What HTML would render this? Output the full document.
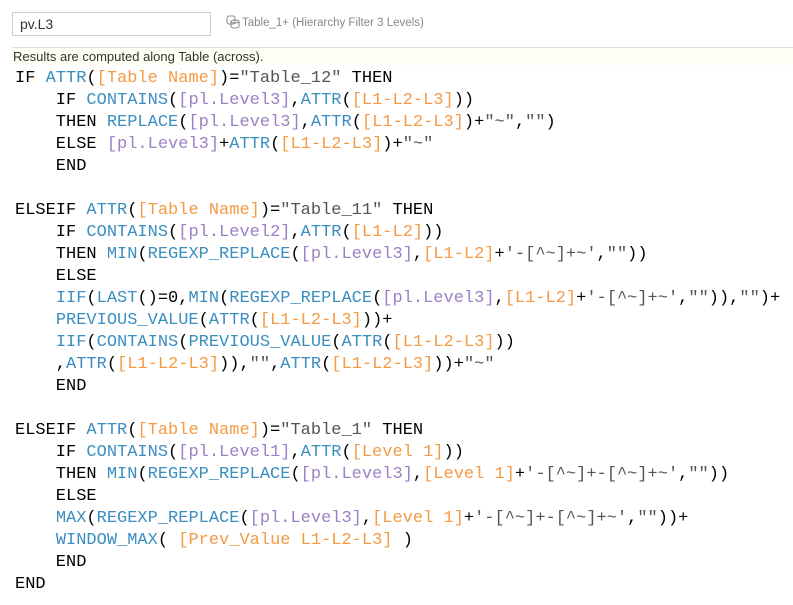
<!DOCTYPE html>
<html><head><meta charset="utf-8"><style>
body{margin:0;width:793px;height:605px;background:#fff;overflow:hidden;position:relative;font-family:"Liberation Sans",sans-serif}
.inp{position:absolute;left:12px;top:12px;font-size:14px;color:#333;line-height:22px;padding-left:7px;box-sizing:border-box;width:199px;height:24px;border:1px solid #cfcfcf}
.src{position:absolute;left:226px;top:15px;font-size:11.5px;color:#888;line-height:16px}
.src svg{vertical-align:-3px;margin-right:2px}
.rule{position:absolute;left:12px;top:47px;width:781px;height:1px;background:#ddd}
.note{position:absolute;left:12px;top:48px;width:781px;height:17px;background:#fefef2;font-size:13px;color:#333;line-height:17px;padding-left:1px}
pre{position:absolute;left:15px;top:68px;margin:0;font-family:"Liberation Mono","Courier New",monospace;font-size:17px;line-height:22px;color:#000}
.f{color:#3b8ec0}.o{color:#f59a45}.p{color:#9b80c6}.s{color:#555}
</style></head><body>
<div class="inp">pv.L3</div>
<div class="src"><svg width="14" height="14" viewBox="0 0 14 14" fill="none" stroke="#888" stroke-width="1"><rect x="1" y="1" width="8" height="8" rx="2"/><ellipse cx="9" cy="6.5" rx="4" ry="1.5"/><path d="M5 6.5v5c0 .8 1.8 1.5 4 1.5s4-.7 4-1.5v-5"/></svg>Table_1+ (Hierarchy Filter 3 Levels)</div>
<div class="rule"></div>
<div class="note">Results are computed along Table (across).</div>
<pre>IF <span class="f">ATTR</span>(<span class="o">[Table Name]</span>)=<span class="s">"Table_12"</span> THEN
    IF <span class="f">CONTAINS</span>(<span class="p">[pl.Level3]</span>,<span class="f">ATTR</span>(<span class="o">[L1-L2-L3]</span>))
    THEN <span class="f">REPLACE</span>(<span class="p">[pl.Level3]</span>,<span class="f">ATTR</span>(<span class="o">[L1-L2-L3]</span>)+<span class="s">"~"</span>,<span class="s">""</span>)
    ELSE <span class="p">[pl.Level3]</span>+<span class="f">ATTR</span>(<span class="o">[L1-L2-L3]</span>)+<span class="s">"~"</span>
    END

ELSEIF <span class="f">ATTR</span>(<span class="o">[Table Name]</span>)=<span class="s">"Table_11"</span> THEN
    IF <span class="f">CONTAINS</span>(<span class="p">[pl.Level2]</span>,<span class="f">ATTR</span>(<span class="o">[L1-L2]</span>))
    THEN <span class="f">MIN</span>(<span class="f">REGEXP_REPLACE</span>(<span class="p">[pl.Level3]</span>,<span class="o">[L1-L2]</span>+<span class="s">'-[^~]+~'</span>,<span class="s">""</span>))
    ELSE
    <span class="f">IIF</span>(<span class="f">LAST</span>()=0,<span class="f">MIN</span>(<span class="f">REGEXP_REPLACE</span>(<span class="p">[pl.Level3]</span>,<span class="o">[L1-L2]</span>+<span class="s">'-[^~]+~'</span>,<span class="s">""</span>)),<span class="s">""</span>)+
    <span class="f">PREVIOUS_VALUE</span>(<span class="f">ATTR</span>(<span class="o">[L1-L2-L3]</span>))+
    <span class="f">IIF</span>(<span class="f">CONTAINS</span>(<span class="f">PREVIOUS_VALUE</span>(<span class="f">ATTR</span>(<span class="o">[L1-L2-L3]</span>))
    ,<span class="f">ATTR</span>(<span class="o">[L1-L2-L3]</span>)),<span class="s">""</span>,<span class="f">ATTR</span>(<span class="o">[L1-L2-L3]</span>))+<span class="s">"~"</span>
    END

ELSEIF <span class="f">ATTR</span>(<span class="o">[Table Name]</span>)=<span class="s">"Table_1"</span> THEN
    IF <span class="f">CONTAINS</span>(<span class="p">[pl.Level1]</span>,<span class="f">ATTR</span>(<span class="o">[Level 1]</span>))
    THEN <span class="f">MIN</span>(<span class="f">REGEXP_REPLACE</span>(<span class="p">[pl.Level3]</span>,<span class="o">[Level 1]</span>+<span class="s">'-[^~]+-[^~]+~'</span>,<span class="s">""</span>))
    ELSE
    <span class="f">MAX</span>(<span class="f">REGEXP_REPLACE</span>(<span class="p">[pl.Level3]</span>,<span class="o">[Level 1]</span>+<span class="s">'-[^~]+-[^~]+~'</span>,<span class="s">""</span>))+
    <span class="f">WINDOW_MAX</span>( <span class="o">[Prev_Value L1-L2-L3]</span> )
    END
END</pre>
</body></html>
